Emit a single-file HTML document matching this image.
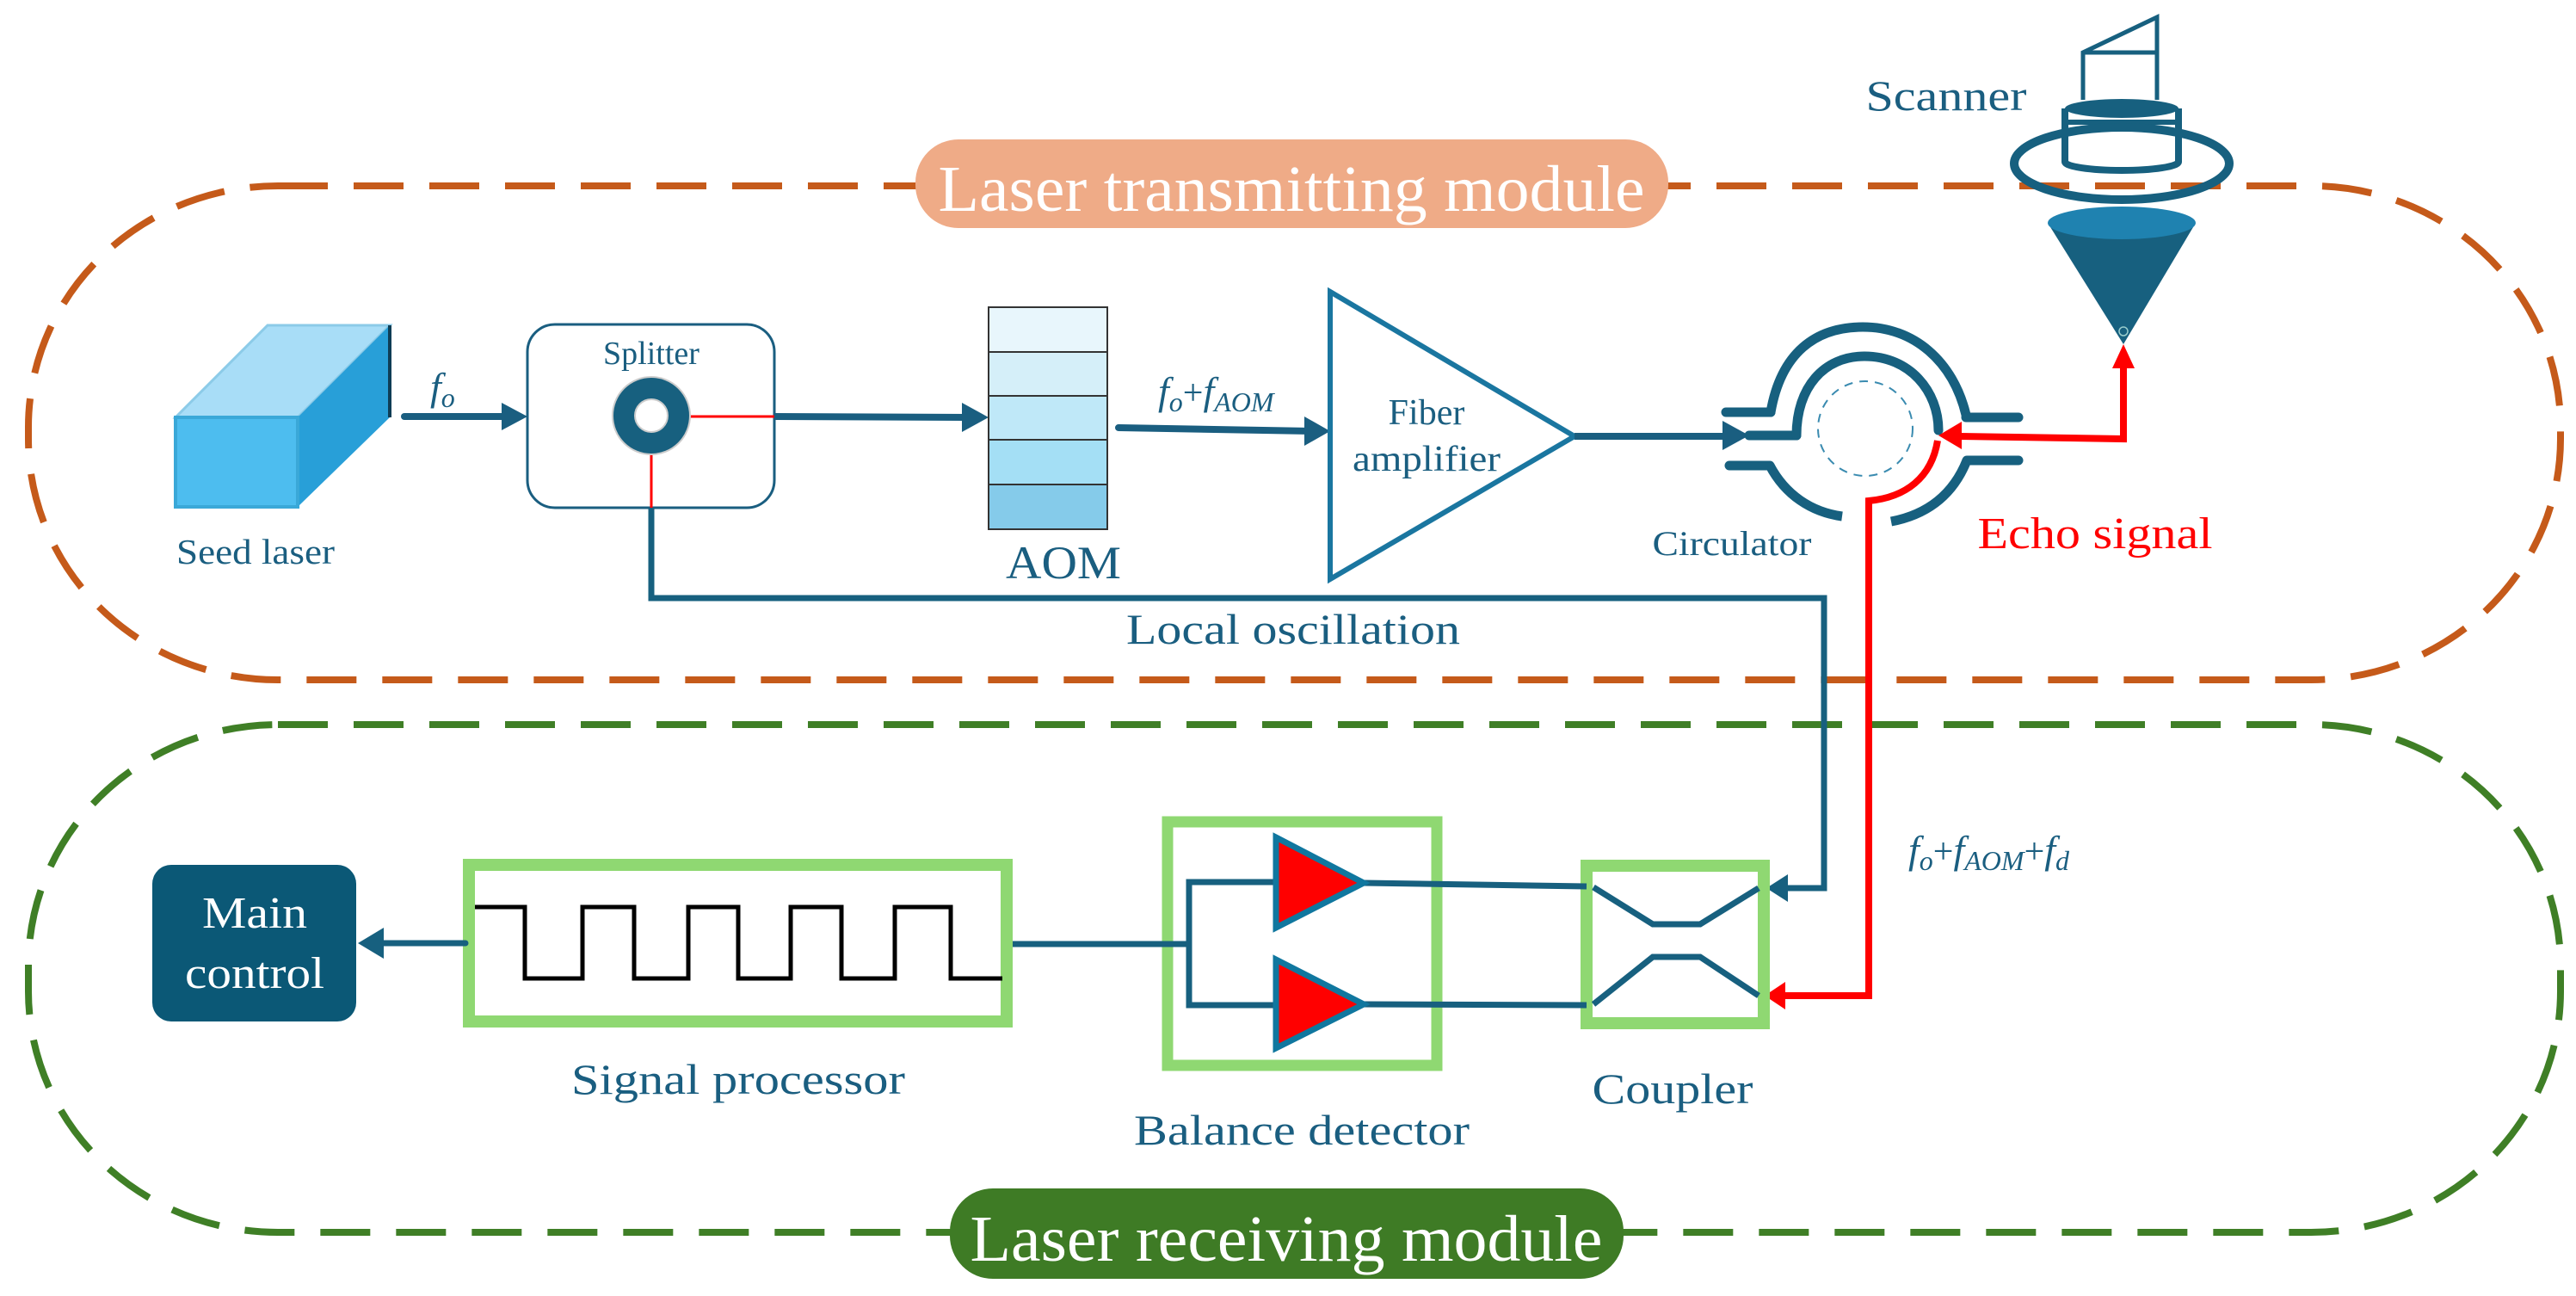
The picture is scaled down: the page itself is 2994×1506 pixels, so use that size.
<!DOCTYPE html>
<html><head><meta charset="utf-8"><style>
html,body{margin:0;padding:0;background:#fff;}
svg{display:block;}
text{font-family:"Liberation Serif",serif;}
</style></head><body>
<svg width="2994" height="1506" viewBox="0 0 2994 1506" xmlns="http://www.w3.org/2000/svg">
<!-- module boxes -->
<rect x="33" y="216" width="2943" height="574" rx="290" ry="280" fill="none" stroke="#C55A1A" stroke-width="8" stroke-dasharray="58 30"/>
<rect x="33" y="842" width="2943" height="590" rx="290" ry="280" fill="none" stroke="#3F7F26" stroke-width="8" stroke-dasharray="58 30"/>
<rect x="1064" y="162" width="875" height="103" rx="50" fill="#EFAB87"/>
<text x="1501" y="245" font-size="76" fill="#fff" text-anchor="middle" textLength="821" lengthAdjust="spacingAndGlyphs">Laser transmitting module</text>
<rect x="1104" y="1381" width="783" height="105" rx="50" fill="#3E7B25"/>
<text x="1495" y="1465" font-size="76" fill="#fff" text-anchor="middle" textLength="735" lengthAdjust="spacingAndGlyphs">Laser receiving module</text>

<!-- seed laser -->
<polygon points="311,378 453,378 346,485 204,485" fill="#A8DDF7" stroke="#8ccbe8" stroke-width="3"/>
<polygon points="346,485 453,378 453,485 346,589" fill="#289FD8"/>
<rect x="204" y="485" width="142" height="104" fill="#4DBDEF" stroke="#3aa8d8" stroke-width="4"/>
<line x1="453" y1="378" x2="453" y2="485" stroke="#0f3d55" stroke-width="4"/>
<text x="205" y="655" font-size="41" fill="#1A5E80" textLength="184" lengthAdjust="spacingAndGlyphs">Seed laser</text>

<!-- fo arrow -->
<text x="500" y="465" font-size="46" font-style="italic" fill="#1A5E80">f<tspan font-size="32" dy="8">o</tspan></text>
<line x1="470" y1="484" x2="590" y2="484" stroke="#1A5E80" stroke-width="8" stroke-linecap="round"/>
<polygon points="583,468 613,484 583,500" fill="#1A5E80"/>

<!-- splitter -->
<rect x="613" y="377" width="287" height="213" rx="32" fill="none" stroke="#1A5E80" stroke-width="3"/>
<text x="757" y="423" font-size="38" fill="#1A5E80" text-anchor="middle">Splitter</text>
<line x1="800" y1="484" x2="900" y2="484" stroke="#f00" stroke-width="3"/>
<line x1="757" y1="526" x2="757" y2="590" stroke="#f00" stroke-width="3"/>
<circle cx="757" cy="483" r="45" fill="#17607F" stroke="#ccc" stroke-width="2"/>
<circle cx="757" cy="483" r="19" fill="#fff" stroke="#ccc" stroke-width="2"/>
<line x1="900" y1="484" x2="1125" y2="485" stroke="#1A5E80" stroke-width="8"/>
<polygon points="1118,468 1149,485 1118,502" fill="#1A5E80"/>

<!-- AOM -->
<rect x="1149" y="357" width="138" height="52" fill="#E8F6FC" stroke="#333" stroke-width="2"/>
<rect x="1149" y="409" width="138" height="51" fill="#D5EFF9" stroke="#333" stroke-width="2"/>
<rect x="1149" y="460" width="138" height="51" fill="#BFE8F8" stroke="#333" stroke-width="2"/>
<rect x="1149" y="511" width="138" height="52" fill="#A4DFF5" stroke="#333" stroke-width="2"/>
<rect x="1149" y="563" width="138" height="52" fill="#85CBEA" stroke="#333" stroke-width="2"/>
<text x="1236" y="672" font-size="54" fill="#1A5E80" text-anchor="middle" textLength="134" lengthAdjust="spacingAndGlyphs">AOM</text>

<text x="1346" y="470" font-size="46" font-style="italic" fill="#1A5E80">f<tspan font-size="32" dy="8">o</tspan><tspan font-style="normal" font-size="42" dy="-8">+</tspan>f<tspan font-size="32" dy="8">AOM</tspan></text>
<line x1="1300" y1="497" x2="1525" y2="501" stroke="#1A5E80" stroke-width="8" stroke-linecap="round"/>
<polygon points="1516,484 1546,501 1516,518" fill="#1A5E80"/>

<!-- fiber amplifier -->
<polygon points="1546,339 1830,507 1546,673" fill="none" stroke="#1A76A0" stroke-width="6" stroke-linejoin="miter"/>
<text x="1658" y="493" font-size="42" fill="#1A5E80" text-anchor="middle">Fiber</text>
<text x="1658" y="547" font-size="42" fill="#1A5E80" text-anchor="middle" textLength="172" lengthAdjust="spacingAndGlyphs">amplifier</text>
<line x1="1830" y1="507" x2="2010" y2="507" stroke="#1A5E80" stroke-width="8"/>
<polygon points="2002,489 2033,506 2002,523" fill="#1A5E80"/>

<!-- circulator -->
<g stroke="#17607F" stroke-width="11" fill="none" stroke-linecap="round">
<line x1="2006" y1="479" x2="2058" y2="479"/>
<path d="M2058,479 C2070,410 2110,380 2165,380 C2225,380 2270,420 2285,482"/>
<line x1="2285" y1="485" x2="2346" y2="485"/>
<line x1="2033" y1="506" x2="2088" y2="506"/>
<path d="M2088,506 C2088,450 2120,414 2167,414 C2220,414 2253,455 2253,500"/>
<line x1="2010" y1="541" x2="2057" y2="541"/>
<path d="M2057,541 C2075,575 2105,595 2141,600" stroke-linecap="butt"/>
<line x1="2346" y1="535" x2="2286" y2="535"/>
<path d="M2286,535 C2270,575 2240,598 2198,606" stroke-linecap="butt"/>
</g>
<circle cx="2168" cy="498" r="55" fill="none" stroke="#3a8bb0" stroke-width="2" stroke-dasharray="10 8"/>
<text x="2013" y="645" font-size="40" fill="#1A5E80" text-anchor="middle" textLength="185" lengthAdjust="spacingAndGlyphs">Circulator</text>

<!-- red echo path -->
<g stroke="#f00" stroke-width="8" fill="none">
<polyline points="2468,420 2468,510 2275,507"/>
<path d="M2252,512 C2245,555 2215,578 2172,582 L2172,1157 L2075,1157"/>
</g>
<polygon points="2253,506 2280,490 2280,522" fill="#f00"/>
<polygon points="2468,400 2455,428 2481,428" fill="#f00"/>
<polygon points="2051,1157 2075,1141 2075,1173" fill="#f00"/>
<text x="2435" y="637" font-size="52" fill="#f00" text-anchor="middle" textLength="273" lengthAdjust="spacingAndGlyphs">Echo signal</text>

<!-- scanner -->
<text x="2262" y="128" font-size="50" fill="#1A5E80" text-anchor="middle" textLength="187" lengthAdjust="spacingAndGlyphs">Scanner</text>
<g stroke="#17607F" fill="none" stroke-width="5">
<polyline points="2421,116 2421,61 2507,20 2507,116"/>
<line x1="2421" y1="61" x2="2507" y2="61"/>
</g>
<path d="M2400,126 L2400,188 A66,10 0 0,0 2532,188 L2532,126" fill="none" stroke="#17607F" stroke-width="8"/>
<ellipse cx="2466" cy="126" rx="66" ry="11" fill="#17607F"/>
<line x1="2400" y1="142" x2="2532" y2="142" stroke="#17607F" stroke-width="6"/>
<ellipse cx="2466" cy="190" rx="125" ry="42" fill="none" stroke="#17607F" stroke-width="10"/>
<polygon points="2380,259 2552,259 2468,400" fill="#17607F"/>
<ellipse cx="2466" cy="259" rx="86" ry="19" fill="#1F82B0"/>
<circle cx="2468" cy="385" r="5" fill="none" stroke="#9cc" stroke-width="1.5"/>

<!-- local oscillation -->
<polyline points="757,590 757,695 2120,695 2120,1032 2075,1032" fill="none" stroke="#17607F" stroke-width="7"/>
<polygon points="2053,1032 2078,1016 2078,1048" fill="#17607F"/>
<text x="1503" y="748" font-size="50" fill="#1A5E80" text-anchor="middle" textLength="388" lengthAdjust="spacingAndGlyphs">Local oscillation</text>
<text x="2218" y="1003" font-size="46" font-style="italic" fill="#1A5E80">f<tspan font-size="32" dy="8">o</tspan><tspan font-style="normal" font-size="42" dy="-8">+</tspan>f<tspan font-size="32" dy="8">AOM</tspan><tspan font-style="normal" font-size="42" dy="-8">+</tspan>f<tspan font-size="32" dy="8">d</tspan></text>

<!-- coupler -->
<rect x="1844" y="1006" width="206" height="183" fill="none" stroke="#8FD872" stroke-width="14"/>
<g stroke="#17607F" stroke-width="7" fill="none">
<polyline points="1852,1031 1921,1074 1976,1074 2044,1032"/>
<polyline points="1852,1167 1921,1112 1976,1112 2044,1157"/>
</g>
<text x="1944" y="1282" font-size="50" fill="#1A5E80" text-anchor="middle" textLength="187" lengthAdjust="spacingAndGlyphs">Coupler</text>

<!-- balance detector -->
<rect x="1357" y="955" width="313" height="283" fill="none" stroke="#8FD872" stroke-width="13"/>
<polyline points="1483,1025 1382,1025 1382,1168 1483,1168" fill="none" stroke="#17607F" stroke-width="7"/>
<line x1="1585" y1="1026" x2="1844" y2="1030" stroke="#17607F" stroke-width="7"/>
<line x1="1585" y1="1167" x2="1844" y2="1168" stroke="#17607F" stroke-width="7"/>
<polygon points="1483,973 1585,1026 1483,1078" fill="#f00" stroke="#10779F" stroke-width="7"/>
<polygon points="1483,1115 1585,1167 1483,1218" fill="#f00" stroke="#10779F" stroke-width="7"/>
<text x="1513" y="1330" font-size="50" fill="#1A5E80" text-anchor="middle" textLength="390" lengthAdjust="spacingAndGlyphs">Balance detector</text>

<!-- signal processor -->
<line x1="1177" y1="1097" x2="1382" y2="1097" stroke="#17607F" stroke-width="7"/>
<rect x="545" y="1005" width="625" height="182" fill="none" stroke="#8FD872" stroke-width="14"/>
<polyline points="552,1054 610,1054 610,1137 677,1137 677,1054 737,1054 737,1137 800,1137 800,1054 858,1054 858,1137 919,1137 919,1054 978,1054 978,1137 1040,1137 1040,1054 1105,1054 1105,1137 1165,1137" fill="none" stroke="#000" stroke-width="5"/>
<text x="858" y="1271" font-size="50" fill="#1A5E80" text-anchor="middle" textLength="388" lengthAdjust="spacingAndGlyphs">Signal processor</text>

<!-- main control -->
<line x1="541" y1="1096" x2="435" y2="1096" stroke="#17607F" stroke-width="7" stroke-linecap="round"/>
<polygon points="416,1096 446,1078 446,1114" fill="#17607F"/>
<rect x="177" y="1005" width="237" height="182" rx="22" fill="#0B5876"/>
<text x="296" y="1078" font-size="52" fill="#fff" text-anchor="middle" textLength="122" lengthAdjust="spacingAndGlyphs">Main</text>
<text x="296" y="1148" font-size="52" fill="#fff" text-anchor="middle" textLength="162" lengthAdjust="spacingAndGlyphs">control</text>
</svg>
</body></html>
